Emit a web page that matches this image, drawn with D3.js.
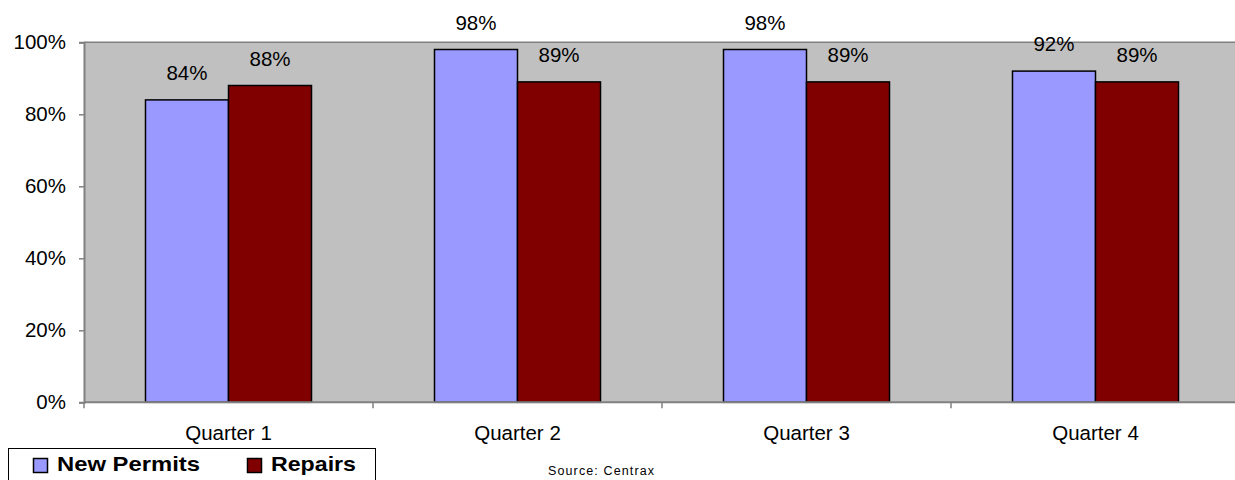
<!DOCTYPE html>
<html><head><meta charset="utf-8">
<script src="https://cdn.jsdelivr.net/npm/d3@7"></script>
<style>body{margin:0;background:#fff}svg{display:block;font-family:"Liberation Sans",Arial,sans-serif}</style>
</head><body><svg id="c" width="1235" height="480"></svg>
<script>
const categories = ["Quarter 1","Quarter 2","Quarter 3","Quarter 4"];
const seriesNames = ["New Permits","Repairs"];
const newPermits = [0.84,0.98,0.98,0.92];
const repairs = [0.88,0.89,0.89,0.89];
const yTicks = [0,0.2,0.4,0.6,0.8,1.0];
const colors = ["#9999FF","#800000"];
const series = [newPermits, repairs];

const svg = d3.select("#c");
const L=84, R=1240, T=42.3, B=402.3;
const x = d3.scaleBand().domain(categories).range([L,R]).paddingInner(0.4256).paddingOuter(0.2128);
const xs = d3.scaleBand().domain(seriesNames).range([0,x.bandwidth()]);
const y = d3.scaleLinear().domain([0,1]).range([B,T]);

svg.append("rect").attr("x",L).attr("y",T).attr("width",R-L).attr("height",B-T).attr("fill","#C0C0C0");
svg.append("line").attr("x1",L).attr("x2",R).attr("y1",T).attr("y2",T).attr("stroke","#808080").attr("stroke-width",1.5);

// y axis
const ya = svg.append("g").attr("transform",`translate(${L},0)`)
  .call(d3.axisLeft(y).tickValues(yTicks).tickFormat(d3.format(".0%")).tickSize(5).tickPadding(13));
ya.select(".domain").attr("stroke","#808080").attr("stroke-width",2);
ya.selectAll(".tick line").attr("stroke","#808080").attr("stroke-width",1.5);
ya.selectAll("text").attr("font-size","20.5px").attr("font-family","Liberation Sans, Arial").attr("fill","#000");

// bars
categories.forEach((c,i)=>{
  series.forEach((s,j)=>{
    svg.append("rect").attr("x",x(c)+xs(seriesNames[j])).attr("y",y(s[i]))
      .attr("width",xs.bandwidth()).attr("height",y(0)-y(s[i]))
      .attr("fill",colors[j]).attr("stroke","#000").attr("stroke-width",1.5);
    svg.append("text").attr("x",x(c)+xs(seriesNames[j])+xs.bandwidth()/2).attr("y",y(s[i])-20)
      .attr("text-anchor","middle").attr("font-size","20.5px").attr("fill","#000")
      .text(d3.format(".0%")(s[i]));
  });
});

// x axis
const step = (R-L)/categories.length;
svg.append("line").attr("x1",L).attr("x2",R).attr("y1",B).attr("y2",B).attr("stroke","#808080").attr("stroke-width",2);
d3.range(categories.length+1).forEach(k=>{
  svg.append("line").attr("x1",L+k*step).attr("x2",L+k*step).attr("y1",B).attr("y2",B+6).attr("stroke","#808080").attr("stroke-width",1.5);
});
categories.forEach(c=>{
  svg.append("text").attr("x",x(c)+x.bandwidth()/2).attr("y",440).attr("text-anchor","middle")
    .attr("font-size","20.5px").attr("fill","#000").text(c);
});

// legend
svg.append("rect").attr("x",8.5).attr("y",448.5).attr("width",367).attr("height",40).attr("fill","#fff").attr("stroke","#000").attr("stroke-width",1);
const legX=[33,247], legW=[143,85];
seriesNames.forEach((n,j)=>{
  svg.append("rect").attr("x",legX[j]+0.5).attr("y",458.5).attr("width",14).attr("height",14)
    .attr("fill",colors[j]).attr("stroke","#000").attr("stroke-width",1.5);
  svg.append("text").attr("x",legX[j]+24).attr("y",470.7).attr("font-size","20.5px").attr("font-weight","bold")
    .attr("textLength",legW[j]).attr("lengthAdjust","spacingAndGlyphs").attr("fill","#000").text(n);
});

svg.append("text").attr("x",548).attr("y",475).attr("font-size","12.5px").attr("letter-spacing","1px")
  .attr("textLength",107).attr("fill","#000").text("Source: Centrax");
</script></body></html>
